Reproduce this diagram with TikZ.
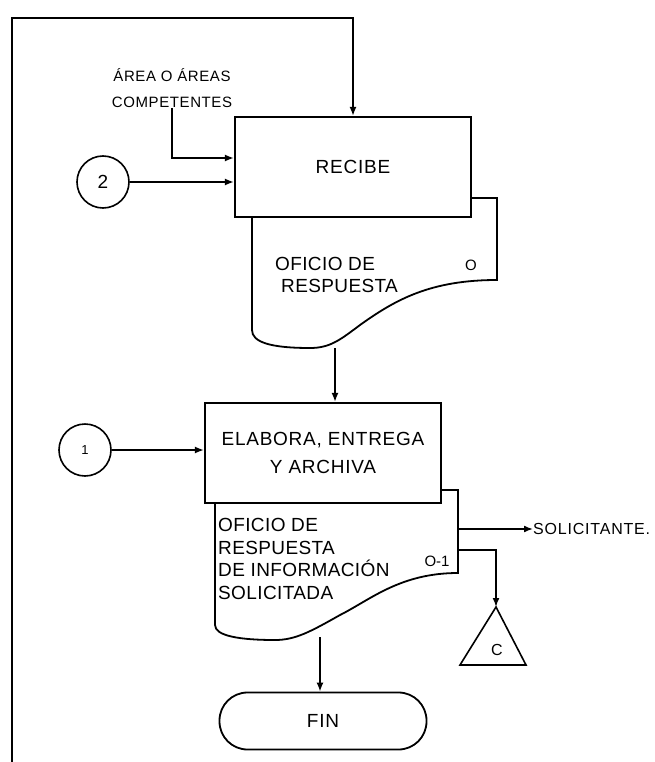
\documentclass[tikz,border=0pt]{standalone}
\usepackage{fontspec}
\setmainfont{Liberation Sans}
\usetikzlibrary{positioning,arrows.meta,calc}
\newcommand{\mainfnt}{\fontsize{19}{28}\selectfont\addfontfeature{LetterSpace=4}}
\tikzset{
  proc/.style ={draw, line width=2.2pt, fill=white, minimum width=236pt,
                minimum height=100pt, align=center, inner sep=2pt, font=\mainfnt},
  conn/.style ={draw, line width=1.6pt, circle, minimum size=52pt, inner sep=0pt},
  docsh/.style={draw, line width=1.8pt, fill=white},
  dtxt/.style ={align=left, inner sep=0pt,
                font=\fontsize{19}{22.7}\selectfont\addfontfeature{LetterSpace=2}},
  term/.style ={draw, line width=1.8pt, rounded corners=28pt, minimum width=207pt,
                minimum height=57pt, font=\mainfnt},
  fl/.style   ={-{Latex[length=9pt,width=7pt]}, line width=1.6pt},
  ln/.style   ={line width=1.6pt},
  note/.style ={font=\fontsize{15}{26}\selectfont\addfontfeature{LetterSpace=4},
                align=center, inner sep=0pt},
}

\begin{document}
\begin{tikzpicture}[x=1pt, y=-1pt]
  \useasboundingbox (0,0) rectangle (655,762);

  % document shapes go first, the boxes cover them
  \draw[docsh] (252,198) -- (497,198) -- (497,280)
        .. controls (430,280) and (395,300) .. (360,325)
        .. controls (340,340) and (330,348) .. (310,348)
        .. controls (270,348) and (252,342) .. (252,330) -- cycle;
  \draw[docsh] (215,490) -- (458,490) -- (458,573)
        .. controls (400,573) and (370,600) .. (340,615)
        .. controls (310,632) and (295,640) .. (275,640)
        .. controls (240,640) and (215,636) .. (215,625) -- cycle;

  \node[proc] (recibe)  at (353,167) {RECIBE};
  \node[proc] (elabora) at (323,453) {ELABORA, ENTREGA\\Y ARCHIVA};

  \node[dtxt, anchor=west] (of1) at (275,275) {OFICIO DE\\\hspace*{6pt}RESPUESTA};
  \node[dtxt, font=\fontsize{15}{16}\selectfont] (o1) at (471,265) {O};
  \node[dtxt, anchor=west] (of2) at (218,559)
        {OFICIO DE\\RESPUESTA\\DE INFORMACIÓN\\SOLICITADA};
  \node[dtxt, font=\fontsize{15}{16}\selectfont] (o2) at (437,561) {O-1};

  \node[conn, font=\mainfnt] (c2) at (103,182) {2};
  \node[conn, font=\fontsize{13}{15}\selectfont] (c1) at (85,450) {1};
  \node[note] (areas) at (172,88) {ÁREA O ÁREAS\\COMPETENTES};
  \node[note, anchor=west, font=\fontsize{16}{20}\selectfont\addfontfeature{LetterSpace=5}]
        (sol) at (533,529) {SOLICITANTE.};
  \node[term] (fin) at (323,721) {FIN};

  \coordinate (d1b) at (335,348);
  \coordinate (d2b) at (320,637);
  \coordinate (fb)    at (12,762);
  \coordinate (fbtop) at (12,18);
  \coordinate (d2r1) at (458,529);
  \coordinate (d2r2) at (458,550);
  \coordinate (apex) at (496,607);
  \coordinate (tl) at (460,665);
  \coordinate (tr) at (526,665);

  % feedback loop
  \draw[fl] (fb) -- (fbtop) -| (recibe.north);

  \draw[fl] (areas.south) |- ($(recibe.west)+(0,-9)$);
  \draw[fl] (c2) -- (c2 -| recibe.west);
  \draw[fl] (d1b) -- (d1b |- elabora.north);
  \draw[fl] (c1) -- (c1 -| elabora.west);
  \draw[fl] (d2r1) -- (sol.west);
  \draw[fl] (d2r2) -| (apex);
  \draw[fl] (d2b) -- (d2b |- fin.north);

  \draw[ln] (apex) -- (tr) -- (tl) -- cycle;
  \node[font=\fontsize{16}{17}\selectfont] (cc) at (497,650) {C};
\end{tikzpicture}
\end{document}
